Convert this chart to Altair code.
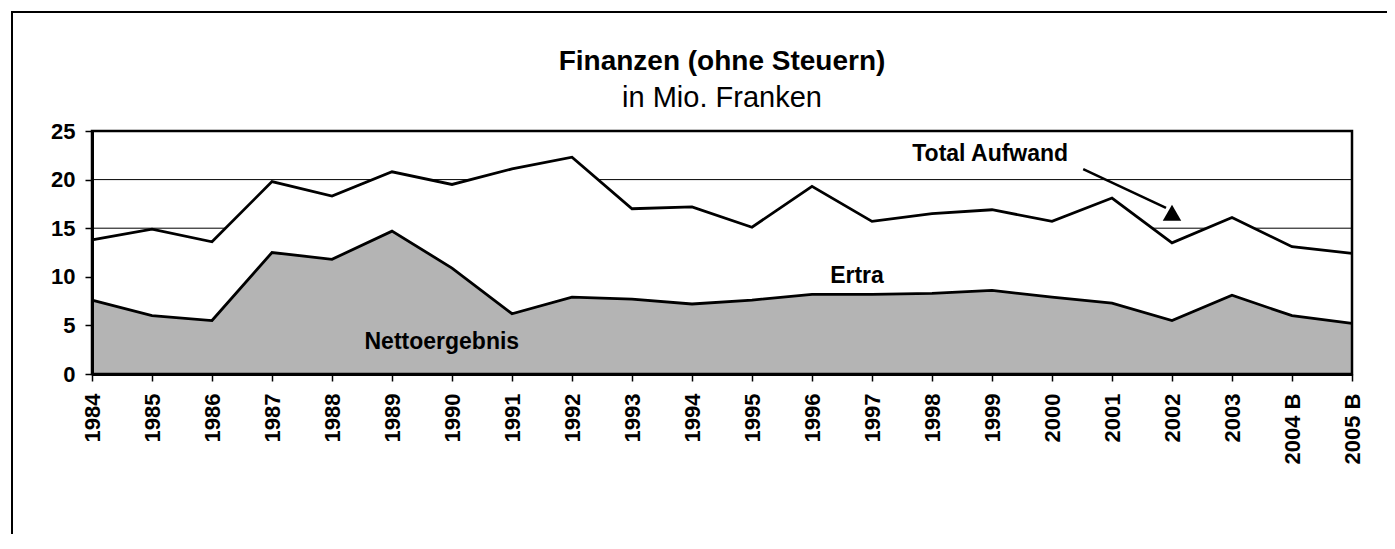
import altair as alt
import pandas as pd

years = ["1984", "1985", "1986", "1987", "1988", "1989", "1990", "1991", "1992", "1993",
         "1994", "1995", "1996", "1997", "1998", "1999", "2000", "2001", "2002", "2003",
         "2004 B", "2005 B"]
total_aufwand = [13.8, 14.9, 13.6, 19.8, 18.3, 20.8, 19.5, 21.1, 22.3, 17.0,
                 17.2, 15.1, 19.3, 15.7, 16.5, 16.9, 15.7, 18.1, 13.5, 16.1,
                 13.1, 12.4]
ertrag = [7.6, 6.0, 5.5, 12.5, 11.8, 14.7, 10.9, 6.2, 7.9, 7.7,
          7.2, 7.6, 8.2, 8.2, 8.3, 8.6, 7.9, 7.3, 5.5, 8.1,
          6.0, 5.2]
y_ticks = [0, 5, 10, 15, 20, 25]
grid_values = [5, 10, 15, 20]

title_lines = ["Finanzen (ohne Steuern)", "in Mio. Franken"]

label_text = ["Total Aufwand", "Ertra", "Nettoergebnis"]
label_x = [14.97, 12.75, 5.83]
label_y = [21.9, 9.35, 2.53]

arrow_x = [16.52]
arrow_y = [21.08]
arrow_x2 = [17.9]
arrow_y2 = [17.1]
head_x = [18.0]
head_y = [16.6]

FONT = "Liberation Sans"

df = pd.DataFrame({"i": list(range(len(years))), "year": years,
                   "total": total_aufwand, "ertrag": ertrag})
lab = pd.DataFrame({"text": label_text, "x": label_x, "y": label_y})
arr = pd.DataFrame({"x": arrow_x, "y": arrow_y, "x2": arrow_x2, "y2": arrow_y2})
head = pd.DataFrame({"x": head_x, "y": head_y})
grid_df = pd.DataFrame({"v": grid_values})
ttl = pd.DataFrame({"text": [title_lines[0]]})
sub = pd.DataFrame({"text": [title_lines[1]]})

label_expr = "[" + ",".join("'" + y + "'" for y in years) + "][datum.value]"

xscale = alt.Scale(domain=[0, len(years) - 1], nice=False, zero=False)
yscale = alt.Scale(domain=[0, 25], nice=False)

x_axis = alt.Axis(values=list(range(len(years))), labelExpr=label_expr, labelAngle=-90,
                  labelFont=FONT, labelFontSize=22, labelFontWeight="bold", labelColor="black",
                  labelPadding=12, tickSize=7, tickColor="black", tickWidth=1.5,
                  domainColor="black", domainWidth=3, grid=False, title=None,
                  labelOverlap=False, zindex=1)
y_axis = alt.Axis(values=y_ticks, labelFont=FONT, labelFontSize=22,
                  labelFontWeight="bold", labelColor="black", labelPadding=10,
                  tickSize=7, tickColor="black", tickWidth=1.5, domainColor="black",
                  domainWidth=3, grid=False, title=None, zindex=1)

base = alt.Chart(df)

grid = alt.Chart(grid_df).mark_rule(color="black", strokeWidth=1).encode(
    y=alt.Y("v:Q", scale=yscale, axis=y_axis))

white_area = base.mark_area(color="white", opacity=1).encode(
    x=alt.X("i:Q", scale=xscale, axis=x_axis),
    y=alt.Y("total:Q", scale=yscale),
)
gray_area = base.mark_area(color="#b4b4b4", opacity=1).encode(
    x=alt.X("i:Q", scale=xscale),
    y=alt.Y("ertrag:Q", scale=yscale),
)
line_total = base.mark_line(color="black", strokeWidth=2.8).encode(
    x="i:Q", y="total:Q")
line_ertrag = base.mark_line(color="black", strokeWidth=2.8).encode(
    x="i:Q", y="ertrag:Q")

texts = alt.Chart(lab).mark_text(font=FONT, fontSize=23, fontWeight="bold",
                                 color="black", align="center", baseline="alphabetic").encode(
    x="x:Q", y="y:Q", text="text:N")

arrow_line = alt.Chart(arr).mark_rule(color="black", strokeWidth=2.5).encode(
    x="x:Q", y="y:Q", x2="x2:Q", y2="y2:Q")
arrow_head = alt.Chart(head).mark_point(shape="triangle-up", filled=True, color="black",
                                        size=340, opacity=1).encode(x="x:Q", y="y:Q")

title_mark = alt.Chart(ttl).mark_text(font=FONT, fontSize=28, fontWeight="bold", color="black",
                                      align="center", baseline="alphabetic").encode(
    x=alt.value(630), y=alt.value(-61), text="text:N")
sub_mark = alt.Chart(sub).mark_text(font=FONT, fontSize=29, color="black",
                                    align="center", baseline="alphabetic").encode(
    x=alt.value(630), y=alt.value(-24), text="text:N")

border = alt.Chart(ttl).mark_rect(fill=None, stroke="black", strokeWidth=2.5).encode(
    x=alt.value(0), x2=alt.value(1260), y=alt.value(0), y2=alt.value(243))

frame_top = alt.Chart(ttl).mark_rule(color="black", strokeWidth=2).encode(
    x=alt.value(-81), x2=alt.value(1320), y=alt.value(-119))
frame_left = alt.Chart(ttl).mark_rule(color="black", strokeWidth=2).encode(
    x=alt.value(-80), y=alt.value(-120), y2=alt.value(700))

chart = alt.layer(
    grid, white_area, gray_area, line_total, line_ertrag, texts, arrow_line, arrow_head,
    title_mark, sub_mark, border, frame_top, frame_left
).properties(
    width=1260, height=243,
    padding={"left": 84, "top": 123, "right": 35, "bottom": 160},
    autosize=alt.AutoSizeParams(type="none"),
).configure_view(
    stroke=None
).configure(background="white")

chart.save("out.html", embed_options={"renderer": "svg", "actions": False})
